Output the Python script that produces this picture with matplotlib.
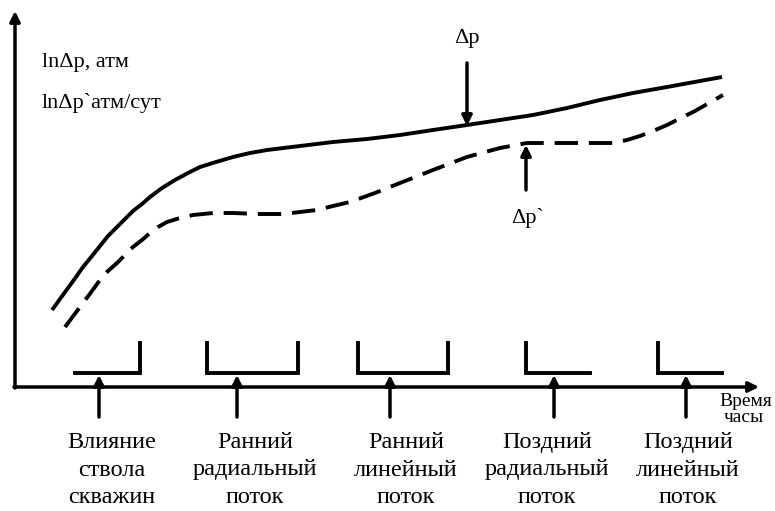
import matplotlib.pyplot as plt
import numpy as np

# curves (pixel coords, y downwards)
dp_x = [52, 60, 68, 76, 83, 92, 100, 108, 117, 125, 133, 142, 150, 162, 175, 188, 200, 216, 233, 250, 267, 300, 333, 367, 400, 433, 467, 500, 533, 567, 600, 633, 667, 700, 722]
dp_y = [310, 299, 288, 277, 267, 256, 246, 236, 227, 219, 211, 204, 197, 188, 180, 173, 167, 162, 157, 153, 150, 146, 142, 139, 135, 130, 125, 120, 115, 108, 100, 93, 87, 81, 77]

dpd_x = [65, 74, 83, 92, 100, 108, 117, 125, 133, 142, 150, 158, 167, 180, 193, 213, 233, 258, 283, 300, 317, 333, 350, 375, 400, 433, 467, 500, 527, 547, 567, 590, 613, 627, 640, 653, 667, 681, 695, 709, 723]
dpd_y = [327, 315, 303, 291, 280, 271, 263, 255, 247, 240, 233, 227, 222, 218, 215, 213, 213, 214, 214, 212, 210, 206, 202, 193, 183, 170, 157, 148, 143, 143, 143, 143, 143, 140, 136, 131, 125, 118, 111, 103, 95]

# period brackets: polylines
brackets = [
    ([75, 140, 140], [373, 373, 343]),
    ([207, 207, 298, 298], [343, 373, 373, 343]),
    ([358, 358, 448, 448], [343, 373, 373, 343]),
    ([526, 526, 590], [343, 373, 373]),
    ([658, 658, 722], [343, 373, 373]),
]
arrow_x = [99, 237, 390, 554, 686]
label_x = [112, 255, 406, 547, 688]
labels = [
    "Влияние\nствола\nскважин",
    "Ранний\nрадиальный\nпоток",
    "Ранний\nлинейный\nпоток",
    "Поздний\nрадиальный\nпоток",
    "Поздний\nлинейный\nпоток",
]

plt.rcParams['font.family'] = ['Liberation Serif', 'DejaVu Serif']

fig = plt.figure(figsize=(7.75, 5.11), dpi=100)
ax = fig.add_axes([0, 0, 1, 1])
ax.set_xlim(0, 775)
ax.set_ylim(511, 0)
ax.axis('off')

arr = dict(arrowstyle='-|>', lw=2.5, color='k', mutation_scale=15, shrinkA=0, shrinkB=0)

# axes
ax.annotate('', xy=(15, 11), xytext=(15, 388), arrowprops=arr)
ax.annotate('', xy=(759, 387), xytext=(14, 387), arrowprops=arr)

# curves
ax.plot(dp_x, dp_y, color='k', lw=2.8, solid_capstyle='butt')
ax.plot(dpd_x, dpd_y, color='k', lw=2.8, dashes=(6, 2.8))

# axis labels
ax.text(42, 62, "lnΔp, атм", fontsize=16, va='center', ha='left')
ax.text(42, 103, "lnΔp`атм/сут", fontsize=16, va='center', ha='left')
ax.text(719, 401, "Время", fontsize=14, va='center', ha='left')
ax.text(724, 418, "часы", fontsize=14, va='center', ha='left')

# curve markers
ax.annotate('', xy=(467, 126), xytext=(467, 63), arrowprops=arr)
ax.text(467, 38, "Δp", fontsize=16, ha='center', va='center')
ax.annotate('', xy=(526, 145), xytext=(526, 190), arrowprops=arr)
ax.text(528, 218, "Δp`", fontsize=16, ha='center', va='center')

# periods
for (bx, by), ax_x, lx, lab in zip(brackets, arrow_x, label_x, labels):
    ax.plot(bx, by, color='k', lw=2.8, solid_joinstyle='miter')
    ax.annotate('', xy=(ax_x, 375), xytext=(ax_x, 417), arrowprops=arr)
    ax.text(lx, 470, lab, fontsize=17.5, ha='center', va='center', linespacing=1.42)

fig.savefig('out.png', dpi=100)
